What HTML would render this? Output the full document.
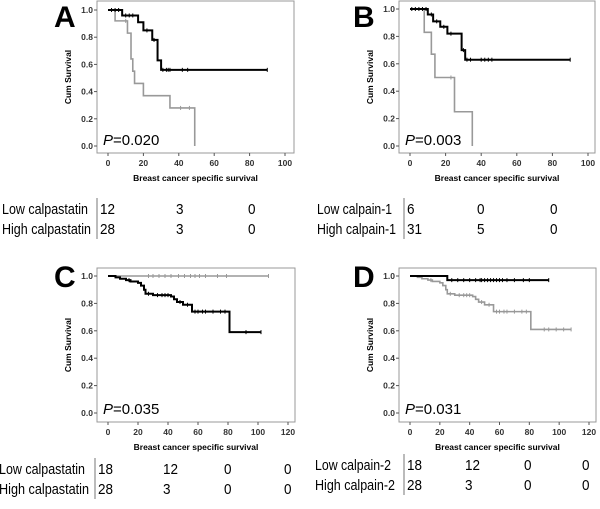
<!DOCTYPE html>
<html><head><meta charset="utf-8"><style>
body{margin:0;background:#fff;width:600px;height:509px;overflow:hidden}
svg{display:block;font-family:"Liberation Sans",Arial,sans-serif}
</style></head><body>
<svg id="s" width="600" height="509"></svg>
<script>
// Panel A
const aBlackT=[0,8,17,20,25,28,30,90], aBlackS=[1,0.96,0.91,0.85,0.78,0.63,0.56,0.56], aBlackC=[2,4,6,10,12,14,22,26,31,33,34,35,42,45,90];
const aGrayT=[0,4,11,13,14,15,20,35,49], aGrayS=[1,0.92,0.83,0.64,0.55,0.46,0.37,0.28,0], aGrayC=[10,41,46];
// Panel B
const bBlackT=[0,10,13,17,21,29,31,90], bBlackS=[1,0.96,0.91,0.87,0.82,0.70,0.63,0.63], bBlackC=[1,3,5,7,9,12,15,19,23,30,32,34,40,42,44,46,90];
const bGrayT=[0,8,12,14,25,35], bGrayS=[1,0.83,0.67,0.5,0.25,0], bGrayC=[23];
// Panel C
const cBlackT=[0,5,8,12,15,20,22,24,25,30,42,44,46,50,56,81,102], cBlackS=[1,0.99,0.98,0.97,0.96,0.95,0.93,0.90,0.87,0.86,0.85,0.83,0.81,0.79,0.74,0.59,0.59], cBlackC=[14,27,33,36,38,40,48,53,58,60,63,65,70,75,78,92,102];
const cGrayT=[0,107], cGrayS=[1,1], cGrayC=[27,30,34,38,42,47,51,55,58,61,65,73,79,107];
// Panel D
const dBlackT=[0,25,93], dBlackS=[1,0.97,0.97], dBlackC=[28,32,36,40,44,47,48,50,52,54,56,58,60,62,65,70,76,80,93];
const dGrayT=[0,5,8,12,15,20,22,24,25,30,42,44,46,50,56,81,108], dGrayS=[1,0.99,0.98,0.97,0.96,0.95,0.93,0.90,0.87,0.86,0.85,0.83,0.81,0.79,0.74,0.61,0.61], dGrayC=[14,27,33,36,38,40,48,53,58,60,63,65,70,75,78,90,93,98,103,108];
const yTicks=["0.0","0.2","0.4","0.6","0.8","1.0"];
const xTicksA=[0,20,40,60,80,100], xTicksC=[0,20,40,60,80,100,120];

const svg=document.getElementById('s');const NS='http://www.w3.org/2000/svg';
function el(t,a,txt){const e=document.createElementNS(NS,t);for(const k in a)e.setAttribute(k,a[k]);if(txt!==undefined)e.textContent=txt;svg.appendChild(e);return e;}
function panel(p){
  const sx=v=>p.x0+(v/p.xmax)*(p.x1-p.x0), sy=v=>p.y0+(1-v)*(p.y1-p.y0);
  let b=el('rect',{x:p.bl,y:p.bt,width:p.br-p.bl,height:p.bb-p.bt,fill:'none',stroke:'#999','stroke-width':1});
  
  
  yTicks.forEach((t,i)=>{const v=i*0.2,y=sy(v);
    el('line',{x1:p.bl-3,x2:p.bl,y1:y,y2:y,stroke:'#555'});
    let tx=el('text',{x:p.bl-4,y:y+3,'font-size':8.5,'font-weight':'bold','text-anchor':'end',fill:'#333'},t);
    
    });
  p.xt.forEach(t=>{const x=sx(t);
    el('line',{x1:x,x2:x,y1:p.bb,y2:p.bb+3,stroke:'#555'});
    let tx=el('text',{x:x,y:p.bb+13,'font-size':8.5,'font-weight':'bold','text-anchor':'middle',fill:'#333'},t);
    
    });
  let yt=el('text',{x:0,y:0,'font-size':8.5,'font-weight':'bold','text-anchor':'middle',transform:`translate(${p.bl-26},${(p.bt+p.bb)/2}) rotate(-90)`},'Cum Survival');
  
  
  let xt=el('text',{x:(p.bl+p.br)/2,y:p.bb+28,'font-size':8.5,'font-weight':'bold','text-anchor':'middle'},'Breast cancer specific survival');
  
  
  let lt=el('text',{x:p.lx,y:p.ly,'font-size':30,'font-weight':'bold'},p.id);
  
  
  let pv=el('text',{x:p.bl+6,y:p.bb-8,'font-size':15},'');
  pv.innerHTML='<tspan font-style="italic">P</tspan>='+p.pval;
  
  
  p.series.forEach(s=>{
    let d='M'+sx(s.t[0])+','+sy(s.s[0]);
    for(let i=1;i<s.t.length;i++){d+=' H'+sx(s.t[i])+' V'+sy(s.s[i]);}
    let path=el('path',{d:d,fill:'none',stroke:s.c,'stroke-width':s.w});
    
    
    s.cen.forEach(c=>{let idx=0;for(let i=0;i<s.t.length;i++)if(s.t[i]<=c)idx=i;
      const x=sx(c),y=sy(s.s[idx]);
      let m=el('line',{x1:x,x2:x,y1:y-2,y2:y+2,stroke:s.c,'stroke-width':1});
      
      });
  });
  el('line',{x1:p.sep,x2:p.sep,y1:p.r1-16,y2:p.r2+5,stroke:'#777'});
  p.rows.forEach((r,ri)=>{const y=ri?p.r2:p.r1;
    let l=el('text',{x:p.labx,y:y,'font-size':15,textLength:r[2],lengthAdjust:'spacingAndGlyphs'},r[0]);
    
    
    r[1].forEach((n,j)=>{let t=el('text',{x:p.nx[j],y:y,'font-size':15,textLength:n.length*7.5,lengthAdjust:'spacingAndGlyphs'},n);
      
      });
  });
}
panel({id:'A',bl:97,br:294,bt:1,bb:153,x0:108,x1:285,xmax:100,y0:10,y1:146,xt:xTicksA,lx:54,ly:27,pval:'0.020',
  series:[{t:aGrayT,s:aGrayS,cen:aGrayC,c:'#999',w:1.6,name:'high-calpastatin-curve'},{t:aBlackT,s:aBlackS,cen:aBlackC,c:'#000',w:2,name:'low-calpastatin-curve'}],
  sep:97,r1:214,r2:234,labx:2,nx:[100,176,248],rows:[['Low calpastatin',['12','3','0'],86],['High calpastatin',['28','3','0'],89]]});
panel({id:'B',bl:399,br:595,bt:1,bb:153,x0:410,x1:588,xmax:100,y0:9,y1:146,xt:xTicksA,lx:353,ly:27,pval:'0.003',
  series:[{t:bGrayT,s:bGrayS,cen:bGrayC,c:'#999',w:1.6,name:'low-calpain1-curve'},{t:bBlackT,s:bBlackS,cen:bBlackC,c:'#000',w:2,name:'high-calpain1-curve'}],
  sep:404,r1:214,r2:234,labx:317,nx:[407,477,550],rows:[['Low calpain-1',['6','0','0'],75],['High calpain-1',['31','5','0'],79]]});
panel({id:'C',bl:97,br:295,bt:268,bb:422,x0:108,x1:288,xmax:120,y0:276,y1:413,xt:xTicksC,lx:54,ly:287,pval:'0.035',
  series:[{t:cGrayT,s:cGrayS,cen:cGrayC,c:'#999',w:1.6,name:'low-calpastatin-curve'},{t:cBlackT,s:cBlackS,cen:cBlackC,c:'#000',w:2,name:'high-calpastatin-curve'}],
  sep:95,r1:474,r2:494,labx:-1,nx:[98,163,224,284],rows:[['Low calpastatin',['18','12','0','0'],86],['High calpastatin',['28','3','0','0'],90]]});
panel({id:'D',bl:399,br:596,bt:268,bb:422,x0:410,x1:589,xmax:120,y0:276,y1:413,xt:xTicksC,lx:353,ly:287,pval:'0.031',
  series:[{t:dGrayT,s:dGrayS,cen:dGrayC,c:'#999',w:1.6,name:'high-calpain2-curve'},{t:dBlackT,s:dBlackS,cen:dBlackC,c:'#000',w:2,name:'low-calpain2-curve'}],
  sep:404,r1:470,r2:490,labx:315,nx:[407,465,524,582],rows:[['Low calpain-2',['18','12','0','0'],76],['High calpain-2',['28','3','0','0'],80]]});
</script>
</body></html>
